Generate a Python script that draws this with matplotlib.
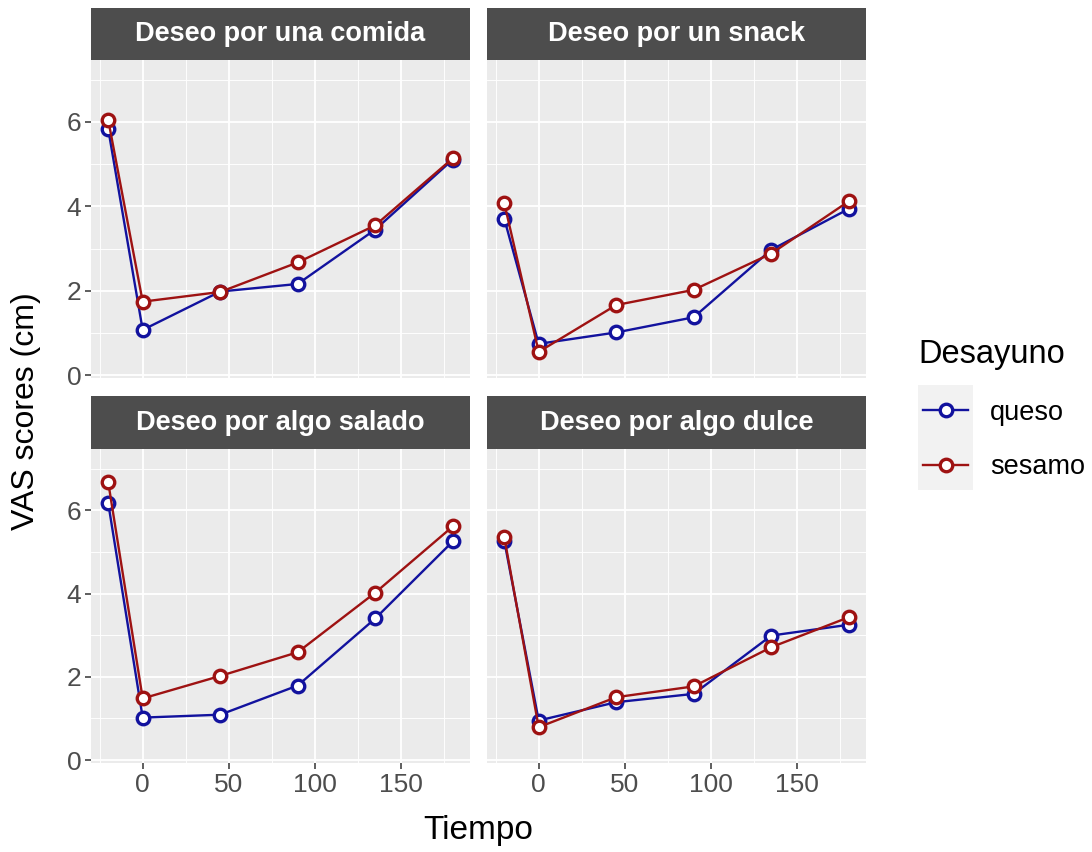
import numpy as np
import matplotlib
matplotlib.use("Agg")
import matplotlib.pyplot as plt
from matplotlib.lines import Line2D
from matplotlib.patches import Rectangle

plt.rcParams["font.family"] = ["Liberation Sans", "DejaVu Sans"]

# data
tiempo = [-20, 0, 45, 90, 135, 180]
paneles = ["Deseo por una comida", "Deseo por un snack",
           "Deseo por algo salado", "Deseo por algo dulce"]
grupos = ["queso", "sesamo"]

queso_comida = [5.83, 1.07, 1.98, 2.16, 3.45, 5.11]
sesamo_comida = [6.05, 1.74, 1.97, 2.67, 3.55, 5.14]
queso_snack = [3.71, 0.74, 1.01, 1.37, 2.97, 3.94]
sesamo_snack = [4.08, 0.55, 1.66, 2.02, 2.88, 4.12]
queso_salado = [6.17, 1.02, 1.09, 1.79, 3.40, 5.25]
sesamo_salado = [6.67, 1.48, 2.02, 2.59, 4.02, 5.61]
queso_dulce = [5.27, 0.95, 1.39, 1.59, 2.99, 3.25]
sesamo_dulce = [5.36, 0.79, 1.51, 1.77, 2.71, 3.43]

valores = [
    (queso_comida, sesamo_comida),
    (queso_snack, sesamo_snack),
    (queso_salado, sesamo_salado),
    (queso_dulce, sesamo_dulce),
]
colores = ["#12129e", "#9e1212"]

W, H = 1092, 852
fig = plt.figure(figsize=(W / 100, H / 100), dpi=100)


def fig_box(x0, y0, x1, y1):
    # pixel box (top-left origin) -> figure fraction rect
    return [x0 / W, 1 - y1 / H, (x1 - x0) / W, (y1 - y0) / H]


# panel pixel boxes: (x0, strip_top, panel_top, x1, panel_bottom)
cajas = [
    (91, 8, 60, 470, 378),
    (487, 8, 60, 866, 378),
    (91, 396, 449, 470, 763),
    (487, 396, 449, 866, 763),
]

estilo = dict(lw=1.7, marker="o", markersize=9, markerfacecolor="white",
              markeredgewidth=2.4)

tick_color = "#4d4d4d"
for i, (x0, st, pt, x1, pb) in enumerate(cajas):
    ax = fig.add_axes(fig_box(x0, pt, x1, pb))
    ax.set_facecolor("#ebebeb")
    for s in ax.spines.values():
        s.set_visible(False)
    ax.set_xlim(-30, 190)
    ax.set_ylim(-0.07, 7.47)
    ax.set_xticks([0, 50, 100, 150])
    ax.set_xticks([-25, 25, 75, 125, 175], minor=True)
    ax.set_yticks([0, 2, 4, 6])
    ax.set_yticks([1, 3, 5, 7], minor=True)
    ax.grid(which="major", color="white", lw=1.3)
    ax.grid(which="minor", color="white", lw=0.65)
    ax.set_axisbelow(True)
    ax.tick_params(which="minor", length=0)
    ax.tick_params(which="major", length=4, width=1.1, color="#333333",
                   labelsize=19, labelcolor=tick_color, pad=3)
    if i % 2 == 1:
        ax.tick_params(axis="y", length=0, labelleft=False)
    if i < 2:
        ax.tick_params(axis="x", length=0, labelbottom=False)

    for j, serie in enumerate(valores[i]):
        ax.plot(tiempo, serie, color=colores[j], markeredgecolor=colores[j],
                **estilo)

    sax = fig.add_axes(fig_box(x0, st, x1, pt))
    sax.set_facecolor("#4d4d4d")
    sax.set_xticks([])
    sax.set_yticks([])
    for s in sax.spines.values():
        s.set_visible(False)
    sax.text(0.5, 0.5, paneles[i], transform=sax.transAxes, ha="center",
             va="center", color="white", fontsize=19.5, fontweight="bold")

fig.text(478 / W, 1 - 830 / H, "Tiempo", ha="center", va="center",
         fontsize=24, color="black")
fig.text(26 / W, 1 - 411 / H, "VAS scores (cm)", ha="center", va="center",
         rotation=90, fontsize=23, color="black")

# legend: grey key background, title as text, entries via fig.legend
fig.patches.append(Rectangle((918 / W, 1 - 490 / H), 55 / W, 105 / H,
                             transform=fig.transFigure, facecolor="#f2f2f2",
                             edgecolor="none", zorder=0))
fig.text(918 / W, 1 - 363 / H, "Desayuno", ha="left", va="baseline",
         fontsize=23.5, color="black")
handles = [Line2D([], [], color=c, markeredgecolor=c, **estilo)
           for c in colores]
leg = fig.legend(handles, grupos, loc="center left",
                 bbox_to_anchor=(923 / W, 1 - 440 / H), frameon=False,
                 fontsize=19.5, handlelength=1.67, labelspacing=1.04,
                 handletextpad=0.8, borderaxespad=0, borderpad=0)

fig.savefig("out.png", dpi=100)
